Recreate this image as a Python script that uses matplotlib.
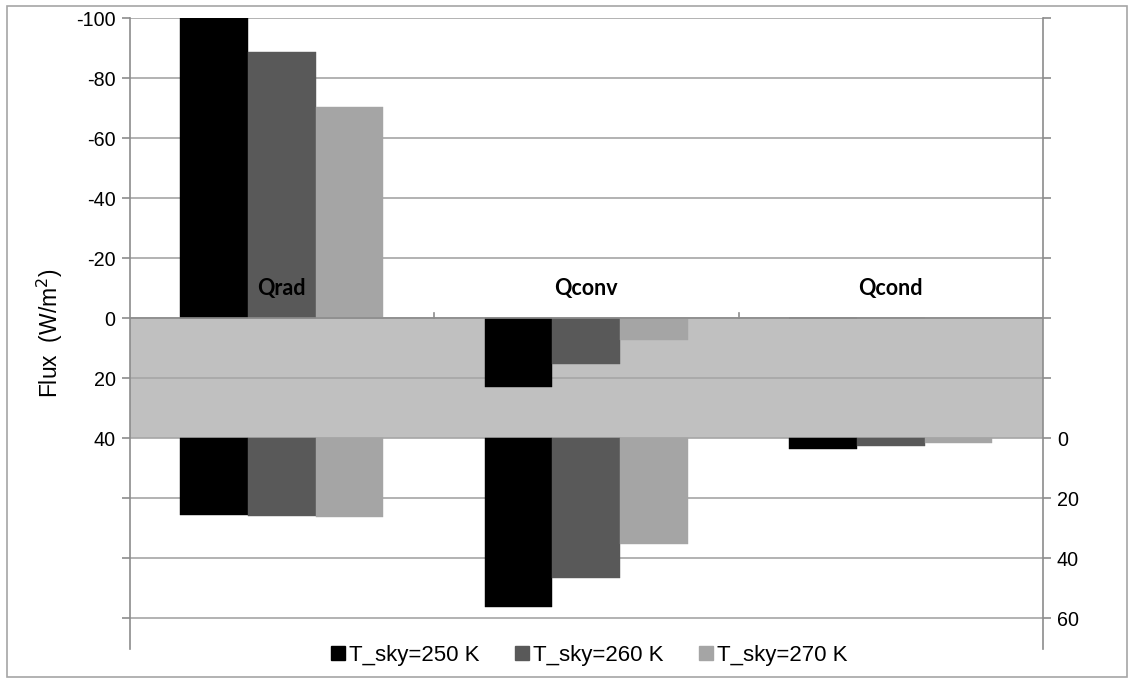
import matplotlib
matplotlib.use("Agg")
import matplotlib.pyplot as plt
import numpy as np
from matplotlib.patches import Rectangle
from matplotlib.lines import Line2D

categories = ['Qrad', 'Qconv', 'Qcond']
series = ['T_sky=250 K', 'T_sky=260 K', 'T_sky=270 K']
# upper chart (left axis, inverted)
upper_250 = [-100, 23.0, 0.0]
upper_260 = [-88.8, 15.3, 0.0]
upper_270 = [-70.2, 7.3, 0.0]
# lower chart (right axis, inverted)
lower_250 = [25.7, 56.4, 3.7]
lower_260 = [25.9, 46.6, 2.6]
lower_270 = [26.3, 35.4, 1.8]
left_ticklabels = [-100, -80, -60, -40, -20, 0, 20, 40]
right_ticklabels = [0, 20, 40, 60]
colors = ['#000000', '#595959', '#a5a5a5']

plt.rcParams['font.family'] = ['Liberation Sans', 'DejaVu Sans']

W, H = 1128, 679
fig = plt.figure(figsize=(W / 100, H / 100), dpi=100)
axw = 1043 - 129.5
ax = fig.add_axes([129.5 / W, 1 - 649 / H, axw / W, (649 - 18) / H])

ymin, ymax = -100, 110.33
ax.set_ylim(ymax, ymin)
ax.set_xlim(-0.5, 2.5)
offset = 40  # right-axis zero sits at left value 40

grid_color = '#a6a6a6'
for v in range(-100, 101, 20):
    ax.axhline(v, color=grid_color, lw=1.2, zorder=1)

# grey band between 0 and 40
ax.axhspan(0, offset, color='#c0c0c0', zorder=0.5, lw=0)

x = np.arange(len(categories))
bw = 1 / 4.5
uppers = [upper_250, upper_260, upper_270]
lowers = [lower_250, lower_260, lower_270]
for i in range(3):
    xi = x + (i - 1) * bw
    ax.bar(xi, uppers[i], width=bw, bottom=0, color=colors[i], zorder=2,
           edgecolor=colors[i], lw=0.3)

ax2 = ax.twinx()
ax2.set_ylim(ymax - offset, ymin - offset)
for i in range(3):
    xi = x + (i - 1) * bw
    ax2.bar(xi, lowers[i], width=bw, bottom=0, color=colors[i], zorder=2,
            edgecolor=colors[i], lw=0.3, label=series[i])

# category axis line at zero and separators
ax.axhline(0, color='#8c8c8c', lw=1.2, zorder=3)
for s in [0.5, 1.5]:
    ax.plot([s, s], [0, -1.8], color='#8c8c8c', lw=1.2, zorder=3, clip_on=False)

for xi, c in zip(x, categories):
    ax.text(xi, -10, c, ha='center', va='center', fontsize=15.5, fontweight='bold',
            family=['Lato', 'DejaVu Sans'], zorder=4)

ticks_all = list(range(-100, 101, 20))
ax.set_yticks(ticks_all)
ax.set_yticklabels([str(t) if t in left_ticklabels else '' for t in ticks_all], fontsize=14.2)
ax2.set_yticks([t - offset for t in ticks_all])
ax2.set_yticklabels([str(t - offset) if (t - offset) in right_ticklabels else '' for t in ticks_all],
                    fontsize=14.2)
ax.set_xticks([])
ax2.set_xticks([])
for a in (ax, ax2):
    a.tick_params(axis='y', length=6, width=1.2, color='#8c8c8c', labelcolor='#000000', pad=4)
    for sp in ['top', 'bottom']:
        a.spines[sp].set_visible(False)
    a.spines['left'].set_color('#8c8c8c')
    a.spines['right'].set_color('#8c8c8c')
    a.spines['left'].set_linewidth(1.2)
    a.spines['right'].set_linewidth(1.2)
ax.spines['right'].set_visible(False)
ax2.spines['left'].set_visible(False)

ax.set_ylabel('Flux  (W/m$^2$)', fontsize=16.5)
ax.yaxis.set_label_coords(-(129.5 - 65) / axw, (649 - 333) / 631)

handles = [Line2D([0], [0], marker='s', linestyle='none', markersize=9.5,
                  markerfacecolor=c, markeredgecolor=c) for c in colors]
fig.legend(handles, series, loc='center', bbox_to_anchor=(587 / W, 1 - 655 / H), ncol=3,
           frameon=False, fontsize=16, handletextpad=0.0, columnspacing=1.4,
           handlelength=1.0)

fig.patches.append(Rectangle((7 / W, 2 / H), (1127 - 7) / W, (677 - 6) / H,
                             transform=fig.transFigure, fill=False,
                             edgecolor='#a6a6a6', lw=1.2))

fig.savefig('out.png', dpi=100)
